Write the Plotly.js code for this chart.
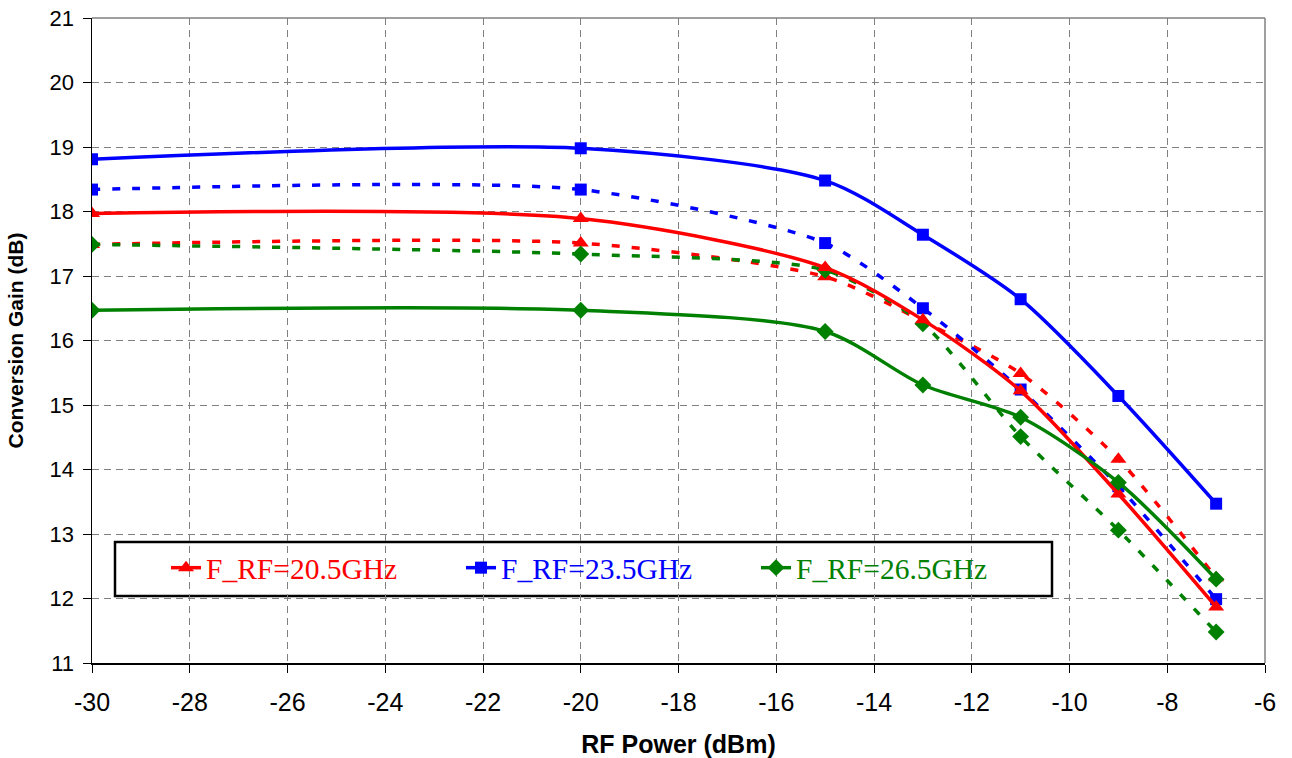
<!DOCTYPE html>
<html><head><meta charset="utf-8">
<script src="https://cdn.plot.ly/plotly-3.0.1.min.js"></script>
<style>body{margin:0;background:#fff}#chart{width:1292px;height:758px}</style>
</head><body><div id="chart"></div>
<script>
const rfPower = [-30, -20, -15, -13, -11, -9, -7];
const gain205Solid = [17.97, 17.89, 17.13, 16.32, 15.22, 13.62, 11.87];
const gain205Dot   = [17.49, 17.51, 16.99, 16.30, 15.49, 14.16, 12.32];
const gain235Solid = [18.81, 18.98, 18.48, 17.64, 16.64, 15.14, 13.47];
const gain235Dot   = [18.34, 18.34, 17.51, 16.50, 15.24, 13.74, 11.99];
const gain265Solid = [16.47, 16.47, 16.14, 15.31, 14.81, 13.80, 12.30];
const gain265Dot   = [17.49, 17.34, 17.09, 16.26, 14.51, 13.06, 11.48];
const seriesNames = ['F_RF=20.5GHz', 'F_RF=23.5GHz', 'F_RF=26.5GHz'];
const seriesColors = ['#ff0000', '#0000ff', '#008000'];
const xTicks = [-30,-28,-26,-24,-22,-20,-18,-16,-14,-12,-10,-8,-6];
const yTicks = [11,12,13,14,15,16,17,18,19,20,21];

const symbols = ['triangle-up', 'square', 'diamond'];
const msizes = [14, 12, 13];
const solids = [gain205Solid, gain235Solid, gain265Solid];
const dots = [gain205Dot, gain235Dot, gain265Dot];
const traces = [];
for (let i = 0; i < 3; i++) {
  traces.push({
    x: rfPower, y: dots[i], type: 'scatter', mode: 'lines+markers',
    line: {color: seriesColors[i], width: 3.5, dash: '8px,12px', shape: 'spline', smoothing: 0.7},
    marker: {symbol: symbols[i], size: msizes[i], color: seriesColors[i]},
    showlegend: false, hoverinfo: 'skip'
  });
}
for (let i = 0; i < 3; i++) {
  traces.push({
    x: rfPower, y: solids[i], type: 'scatter', mode: 'lines+markers',
    name: '<span style="color:' + seriesColors[i] + '">' + seriesNames[i] + '</span>',
    line: {color: seriesColors[i], width: 3.5, shape: 'spline', smoothing: 0.8},
    marker: {symbol: symbols[i], size: msizes[i], color: seriesColors[i]},
    hoverinfo: 'skip'
  });
}
const W = 1292, H = 758, L = 92, R = 27, T = 18, B = 95;
const pw = W - L - R, ph = H - T - B;
const px = v => (v - L) / pw;
const py = v => (H - B - v) / ph;
const layout = {
  width: W, height: H,
  margin: {l: L, r: R, t: T, b: B},
  paper_bgcolor: '#fff', plot_bgcolor: '#fff',
  font: {family: 'Liberation Sans, Arial, sans-serif', color: '#000'},
  xaxis: {
    range: [-30, -6], tickvals: xTicks, ticktext: xTicks.map(String),
    ticks: 'outside', ticklen: 8, tickcolor: '#000', tickwidth: 1,
    showline: true, linecolor: '#000', linewidth: 1.5,
    showgrid: true, gridcolor: '#808080', gridwidth: 1, griddash: '7px,5px',
    zeroline: false, ticklabelstandoff: 8,
    tickfont: {size: 25},
    title: {text: '<b>RF Power (dBm)</b>', font: {size: 25}, standoff: 22}
  },
  yaxis: {
    range: [11, 21], tickvals: yTicks,
    ticks: 'outside', ticklen: 8, tickcolor: '#000', tickwidth: 1,
    showline: true, linecolor: '#000', linewidth: 1.5,
    showgrid: true, gridcolor: '#808080', gridwidth: 1, griddash: '7px,5px',
    zeroline: false, ticklabelstandoff: 4,
    tickfont: {size: 22},
    title: {text: '<b>Conversion Gain (dB)</b>', font: {size: 21}, standoff: 20}
  },
  shapes: [
    {type: 'line', xref: 'paper', yref: 'paper', x0: 0, x1: 1, y0: 1, y1: 1, line: {color: '#808080', width: 1.5}},
    {type: 'line', xref: 'paper', yref: 'paper', x0: 1, x1: 1, y0: 0, y1: 1, line: {color: '#808080', width: 1.5}},
    {type: 'rect', xref: 'paper', yref: 'paper', layer: 'between',
     x0: px(115), x1: px(1052), y0: py(596), y1: py(542),
     fillcolor: '#fff', line: {color: '#000', width: 2.5}}
  ],
  legend: {
    orientation: 'h', x: px(166), y: py(568), xanchor: 'left', yanchor: 'middle',
    bgcolor: 'rgba(0,0,0,0)', borderwidth: 0,
    font: {family: 'Liberation Serif, Times New Roman, serif', size: 29.5},
    entrywidth: 250, entrywidthmode: 'pixels', traceorder: 'normal',
    itemwidth: 30
  }
};
Plotly.newPlot('chart', traces, layout, {displayModeBar: false, staticPlot: true});
</script></body></html>
